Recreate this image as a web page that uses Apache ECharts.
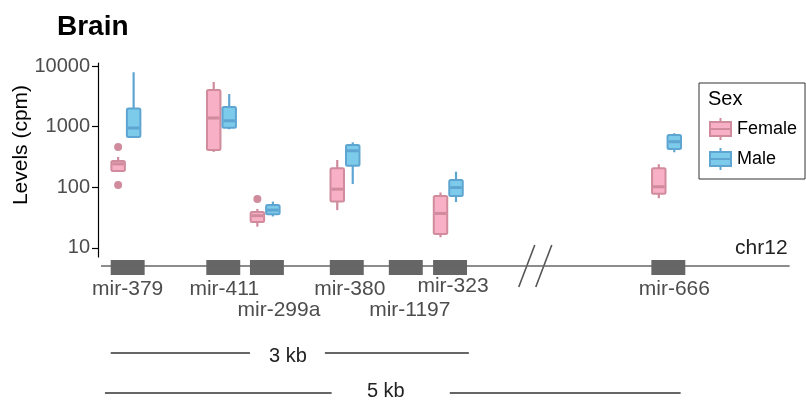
<!DOCTYPE html>
<html><head><meta charset="utf-8">
<script src="https://cdn.jsdelivr.net/npm/echarts@6/dist/echarts.min.js"></script>
<style>html,body{margin:0;padding:0;background:#fff}#c{width:806px;height:400px}</style>
</head><body><div id="c"></div>
<script>
// ---------- data ----------
const genes = ['mir-379','mir-411','mir-299a','mir-380','mir-1197','mir-323','mir-666'];
const geneStartKb = [0.106, 0.903, 1.267, 1.933, 2.425, 2.794, 4.614];
const geneLengthKb = 0.283;
// [lower whisker, Q1, median, Q3, upper whisker] in cpm
const femaleStats = [[180,186,243,272,316],[383,412,1390,4020,5450],[22.4,26.8,34,39.2,44],[42,58,93,206,282],null,[15,17,37,72,82],[66,78,102,206,240]];
const femaleOutliers = [[462,109],[],[64],[],[],[],[]];
const maleStats = [[650,676,950,1995,7900],[905,955,1250,2110,3450],[33,36,42,51,58],[113,227,400,499,552],null,[57,72,99,132,181],[378,428,565,729,778]];
const maleOutliers = [[],[],[],[],[],[],[]];
const yTicks = [10, 100, 1000, 10000];
const chromExtentKb = [0.025, 5.767];
const breakKb = 3.646;
const scaleBarLabels = ['3 kb', '5 kb'];
const scaleBarSegmentsKb = [[[0.106,1.267],[1.892,3.092]], [[0.058,1.948],[2.933,4.858]]];
const scaleBarTextKb = [1.583, 2.40];

// ---------- style ----------
const F_FILL = '#f7b0c5', F_LINE = '#d08b9d';
const M_FILL = '#7dcbea', M_LINE = '#5fa5d2';
const BOX_W_KB = 0.129, DODGE_KB = 0.0646, GROUP_SHIFT_KB = -0.015;
const labelNudgePx = [[0,0],[1,0],[12,21],[3,0],[4,21],[3,-3],[6,0]];
const TXT = '#4d4d4d';
const FONT = 'Liberation Sans';
const L10 = Math.log10;

function geneCenter(i){ return geneStartKb[i] + geneLengthKb/2; }

function boxData(stats, off){
  const out = [];
  stats.forEach((s,i)=>{ if(s) out.push([geneCenter(i)+GROUP_SHIFT_KB+off].concat(s.map(L10))); });
  return out;
}
function outData(outs, off){
  const out = [];
  outs.forEach((o,i)=>o.forEach(v=>out.push([geneCenter(i)+GROUP_SHIFT_KB+off, L10(v)])));
  return out;
}
function boxRender(fill, stroke){
  return function(params, api){
    const x = api.value(0);
    const lo = api.coord([x, api.value(1)]);
    const q1 = api.coord([x, api.value(2)]);
    const md = api.coord([x, api.value(3)]);
    const q3 = api.coord([x, api.value(4)]);
    const hi = api.coord([x, api.value(5)]);
    const w = api.size([BOX_W_KB, 0])[0] - 2;
    const cx = lo[0];
    return {type:'group', children:[
      {type:'line', shape:{x1:cx,y1:lo[1],x2:cx,y2:q1[1]}, style:{stroke:stroke,lineWidth:2.2}},
      {type:'line', shape:{x1:cx,y1:q3[1],x2:cx,y2:hi[1]}, style:{stroke:stroke,lineWidth:2.2}},
      {type:'rect', shape:{x:cx-w/2,y:q3[1],width:w,height:q1[1]-q3[1],r:1.5}, style:{fill:fill,stroke:stroke,lineWidth:2}},
      {type:'line', shape:{x1:cx-w/2+1,y1:md[1],x2:cx+w/2-1,y2:md[1]}, style:{stroke:stroke,lineWidth:3}}
    ]};
  };
}

const ICON = 'path://M11.5,0L11.5,4M1,4L22,4L22,18L1,18ZM1,11L22,11M11.5,18L11.5,22';

const option = {
  animation:false,
  title:[
    {text:'Brain', left:52, top:8, textStyle:{fontFamily:FONT, fontSize:28, fontWeight:'bold', color:'#000'}},
    {text:'Sex', left:703, top:84, textStyle:{fontFamily:FONT, fontSize:20, fontWeight:'normal', color:'#000'}}
  ],
  legend:{
    data:[
      {name:'Female', icon:ICON, itemStyle:{color:F_FILL, borderColor:F_LINE, borderWidth:2}},
      {name:'Male', icon:ICON, itemStyle:{color:M_FILL, borderColor:M_LINE, borderWidth:2}}
    ],
    orient:'vertical', left:699, top:83, padding:[34,8,8,10],
    borderColor:'#333', borderWidth:1, itemWidth:23, itemHeight:22, itemGap:6,
    textStyle:{fontFamily:FONT, fontSize:18, color:'#000'}
  },
  grid:[
    {left:98, right:16, top:63, height:194, containLabel:false, outerBoundsMode:'none'},
    {left:98, right:16, top:260, height:15, containLabel:false, outerBoundsMode:'none'}
  ],
  xAxis:[
    {type:'value', gridIndex:0, min:0, max:5.77, show:false},
    {type:'value', gridIndex:1, min:0, max:5.77, show:false}
  ],
  yAxis:[
    {type:'value', gridIndex:0, min:0.85, max:4.05,
     axisLine:{show:true, lineStyle:{color:'#000', width:1.2}},
     axisTick:{show:true, length:6, lineStyle:{color:'#000', width:1.2}, customValues:yTicks.map(L10)},
     axisLabel:{customValues:yTicks.map(L10), formatter:v=>String(Math.round(Math.pow(10,v))), fontFamily:FONT, fontSize:20, color:TXT, margin:8},
     splitLine:{show:false},
     name:'Levels (cpm)', nameLocation:'middle', nameGap:66, nameMoveOverlap:false,
     nameTextStyle:{fontFamily:FONT, fontSize:21, color:'#000', padding:[0,0,0,30]}},
    {type:'value', gridIndex:1, min:0, max:1, show:false}
  ],
  series:[
    {name:'Female', type:'custom', xAxisIndex:0, yAxisIndex:0, clip:false,
     itemStyle:{color:F_FILL, borderColor:F_LINE}, renderItem:boxRender(F_FILL,F_LINE), data:boxData(femaleStats,-DODGE_KB)},
    {name:'Male', type:'custom', xAxisIndex:0, yAxisIndex:0, clip:false,
     itemStyle:{color:M_FILL, borderColor:M_LINE}, renderItem:boxRender(M_FILL,M_LINE), data:boxData(maleStats,DODGE_KB)},
    {name:'Female', type:'scatter', xAxisIndex:0, yAxisIndex:0, symbolSize:8, itemStyle:{color:F_LINE, opacity:1}, data:outData(femaleOutliers,-DODGE_KB)},
    {name:'Male', type:'scatter', xAxisIndex:0, yAxisIndex:0, symbolSize:8, itemStyle:{color:M_LINE, opacity:1}, data:outData(maleOutliers,DODGE_KB)},
    // chromosome line
    {type:'line', xAxisIndex:1, yAxisIndex:1, symbol:'none', silent:true,
     lineStyle:{color:'#666', width:1.6}, data:[[chromExtentKb[0],0.6],[chromExtentKb[1],0.6]]},
    // gene blocks + labels
    {type:'custom', xAxisIndex:1, yAxisIndex:1, clip:false, silent:true,
     data:genes.map((g,i)=>[geneStartKb[i], geneStartKb[i]+geneLengthKb, i]),
     renderItem:function(params, api){
       const a = api.coord([api.value(0),1]), b = api.coord([api.value(1),0]);
       const i = api.value(2);
       const n = labelNudgePx[i];
       return {type:'group', children:[
         {type:'rect', shape:{x:a[0],y:a[1],width:b[0]-a[0],height:b[1]-a[1]}, style:{fill:'#666'}},
         {type:'text', x:(a[0]+b[0])/2+n[0], y:b[1]+14+n[1], style:{text:genes[i], fill:TXT, fontFamily:FONT, fontSize:21, align:'center', verticalAlign:'middle'}}
       ]};
     }},
    // break marks
    {type:'custom', xAxisIndex:1, yAxisIndex:1, clip:false, silent:true, data:[[breakKb,0.6]],
     renderItem:function(params, api){
       const p = api.coord([api.value(0), api.value(1)]);
       const ch = [];
       [-8.5, 8.5].forEach(d=>{
         ch.push({type:'line', shape:{x1:p[0]+d-8,y1:p[1]+21,x2:p[0]+d+8,y2:p[1]-21}, style:{stroke:'#555',lineWidth:1.6}});
       });
       return {type:'group', children:ch};
     }},
    // chr label
    {type:'custom', xAxisIndex:1, yAxisIndex:1, clip:false, silent:true, data:[[chromExtentKb[1],0.6]],
     renderItem:function(params, api){
       const p = api.coord([api.value(0), api.value(1)]);
       return {type:'text', x:p[0]-2, y:p[1]-7, style:{text:'chr12', fill:'#222', fontFamily:FONT, fontSize:21, align:'right', verticalAlign:'bottom'}};
     }},
    // scale bars
    {type:'custom', xAxisIndex:1, yAxisIndex:1, clip:false, silent:true,
     data:scaleBarLabels.map((l,i)=>[scaleBarTextKb[i], i]),
     renderItem:function(params, api){
       const i = api.value(1);
       const base = api.coord([0,0])[1];
       const yLine = base + (i===0 ? 78 : 118);
       const yText = base + (i===0 ? 81 : 116);
       const ch = scaleBarSegmentsKb[i].map(s=>{
         const x1 = api.coord([s[0],0])[0], x2 = api.coord([s[1],0])[0];
         return {type:'line', shape:{x1:x1,y1:yLine,x2:x2,y2:yLine}, style:{stroke:'#333',lineWidth:1.3}};
       });
       ch.push({type:'text', x:api.coord([api.value(0),0])[0], y:yText, style:{text:scaleBarLabels[i], fill:'#222', fontFamily:FONT, fontSize:20, align:'center', verticalAlign:'middle'}});
       return {type:'group', children:ch};
     }}
  ]
};
const chart = echarts.init(document.getElementById('c'));
chart.setOption(option);
</script></body></html>
